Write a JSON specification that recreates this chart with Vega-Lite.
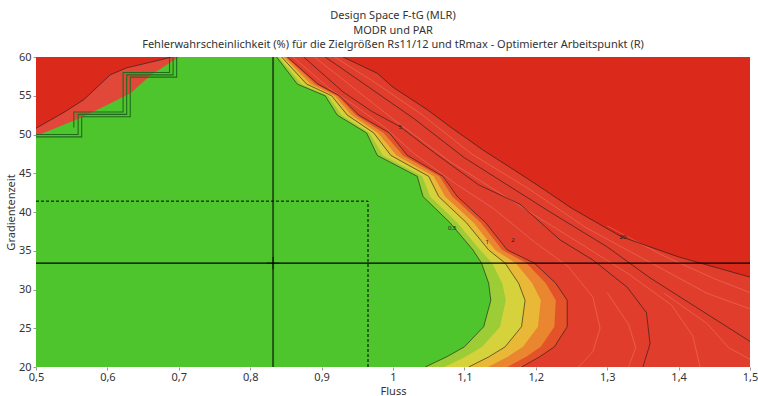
{
  "$schema": "https://vega.github.io/schema/vega-lite/v6.json",
  "width": 714,
  "height": 310,
  "autosize": {"type": "none"},
  "padding": {"left": 36, "top": 57, "right": 8, "bottom": 29},
  "background": "white",
  "title": {
    "text": ["Design Space F-tG (MLR)", "MODR und PAR", "Fehlerwahrscheinlichkeit (%) für die Zielgrößen Rs11/12 und tRmax - Optimierter Arbeitspunkt (R)"],
    "fontSize": 11, "fontWeight": "normal", "font": "Noto Sans", "color": "#333333",
    "lineHeight": 14.5, "offset": 1, "anchor": "middle", "frame": "group"
  },
  "config": {"view": {"stroke": null}, "font": "Noto Sans"},
  "datasets": {
    "bands": [
      {"b": "G", "y": 60, "x": 0.837}, {"b": "G", "y": 56.5, "x": 0.866}, {"b": "G", "y": 55, "x": 0.905}, {"b": "G", "y": 52.5, "x": 0.922}, {"b": "G", "y": 50.2, "x": 0.963}, {"b": "G", "y": 47.3, "x": 0.978}, {"b": "G", "y": 44.6, "x": 1.034}, {"b": "G", "y": 42, "x": 1.042}, {"b": "G", "y": 38.6, "x": 1.08}, {"b": "G", "y": 35.1, "x": 1.112}, {"b": "G", "y": 33.4, "x": 1.124}, {"b": "G", "y": 30.8, "x": 1.134}, {"b": "G", "y": 28.6, "x": 1.137}, {"b": "G", "y": 25.2, "x": 1.127}, {"b": "G", "y": 22.6, "x": 1.1}, {"b": "G", "y": 21.3, "x": 1.075}, {"b": "G", "y": 20, "x": 1.045},
      {"b": "L", "y": 60, "x": 0.84}, {"b": "L", "y": 56.5, "x": 0.872}, {"b": "L", "y": 55, "x": 0.909}, {"b": "L", "y": 52.5, "x": 0.928}, {"b": "L", "y": 50.2, "x": 0.967}, {"b": "L", "y": 47.3, "x": 0.986}, {"b": "L", "y": 44.6, "x": 1.041}, {"b": "L", "y": 42, "x": 1.052}, {"b": "L", "y": 38.6, "x": 1.09}, {"b": "L", "y": 35.1, "x": 1.122}, {"b": "L", "y": 33.4, "x": 1.139}, {"b": "L", "y": 30.8, "x": 1.153}, {"b": "L", "y": 28.6, "x": 1.158}, {"b": "L", "y": 25.2, "x": 1.15}, {"b": "L", "y": 22.6, "x": 1.125}, {"b": "L", "y": 21.3, "x": 1.101}, {"b": "L", "y": 20, "x": 1.072},
      {"b": "Y", "y": 60, "x": 0.844}, {"b": "Y", "y": 56.5, "x": 0.879}, {"b": "Y", "y": 55, "x": 0.914}, {"b": "Y", "y": 52.5, "x": 0.936}, {"b": "Y", "y": 50.2, "x": 0.973}, {"b": "Y", "y": 47.3, "x": 0.997}, {"b": "Y", "y": 44.6, "x": 1.05}, {"b": "Y", "y": 42, "x": 1.064}, {"b": "Y", "y": 38.6, "x": 1.103}, {"b": "Y", "y": 35.1, "x": 1.134}, {"b": "Y", "y": 33.4, "x": 1.157}, {"b": "Y", "y": 30.8, "x": 1.176}, {"b": "Y", "y": 28.6, "x": 1.185}, {"b": "Y", "y": 25.2, "x": 1.18}, {"b": "Y", "y": 22.6, "x": 1.157}, {"b": "Y", "y": 21.3, "x": 1.134}, {"b": "Y", "y": 20, "x": 1.106},
      {"b": "YO", "y": 60, "x": 0.847}, {"b": "YO", "y": 56.5, "x": 0.885}, {"b": "YO", "y": 55, "x": 0.918}, {"b": "YO", "y": 52.5, "x": 0.942}, {"b": "YO", "y": 50.2, "x": 0.979}, {"b": "YO", "y": 47.3, "x": 1.005}, {"b": "YO", "y": 44.6, "x": 1.057}, {"b": "YO", "y": 42, "x": 1.073}, {"b": "YO", "y": 38.6, "x": 1.113}, {"b": "YO", "y": 35.1, "x": 1.143}, {"b": "YO", "y": 33.4, "x": 1.172}, {"b": "YO", "y": 30.8, "x": 1.195}, {"b": "YO", "y": 28.6, "x": 1.207}, {"b": "YO", "y": 25.2, "x": 1.203}, {"b": "YO", "y": 22.6, "x": 1.182}, {"b": "YO", "y": 21.3, "x": 1.16}, {"b": "YO", "y": 20, "x": 1.133},
      {"b": "O", "y": 60, "x": 0.85}, {"b": "O", "y": 56.5, "x": 0.891}, {"b": "O", "y": 55, "x": 0.922}, {"b": "O", "y": 52.5, "x": 0.948}, {"b": "O", "y": 50.2, "x": 0.987}, {"b": "O", "y": 47.3, "x": 1.014}, {"b": "O", "y": 44.6, "x": 1.065}, {"b": "O", "y": 42, "x": 1.083}, {"b": "O", "y": 38.6, "x": 1.123}, {"b": "O", "y": 35.1, "x": 1.153}, {"b": "O", "y": 33.4, "x": 1.187}, {"b": "O", "y": 30.8, "x": 1.214}, {"b": "O", "y": 28.6, "x": 1.228}, {"b": "O", "y": 25.2, "x": 1.226}, {"b": "O", "y": 22.6, "x": 1.207}, {"b": "O", "y": 21.3, "x": 1.186}, {"b": "O", "y": 20, "x": 1.16},
      {"b": "R", "y": 60, "x": 0.852}, {"b": "R", "y": 56.5, "x": 0.895}, {"b": "R", "y": 55, "x": 0.925}, {"b": "R", "y": 52.5, "x": 0.952}, {"b": "R", "y": 50.2, "x": 0.995}, {"b": "R", "y": 47.3, "x": 1.02}, {"b": "R", "y": 44.6, "x": 1.07}, {"b": "R", "y": 42, "x": 1.09}, {"b": "R", "y": 38.6, "x": 1.13}, {"b": "R", "y": 35.1, "x": 1.16}, {"b": "R", "y": 33.4, "x": 1.198}, {"b": "R", "y": 30.8, "x": 1.228}, {"b": "R", "y": 28.6, "x": 1.244}, {"b": "R", "y": 25.2, "x": 1.244}, {"b": "R", "y": 22.6, "x": 1.226}, {"b": "R", "y": 21.3, "x": 1.205}, {"b": "R", "y": 20, "x": 1.18},
      {"b": "S", "y": 60, "x": 0.93}, {"b": "S", "y": 57.9, "x": 0.978}, {"b": "S", "y": 56.1, "x": 1.0}, {"b": "S", "y": 53.2, "x": 1.048}, {"b": "S", "y": 51, "x": 1.08}, {"b": "S", "y": 48, "x": 1.126}, {"b": "S", "y": 45.4, "x": 1.17}, {"b": "S", "y": 43, "x": 1.21}, {"b": "S", "y": 40.5, "x": 1.25}, {"b": "S", "y": 36.8, "x": 1.32}, {"b": "S", "y": 34.2, "x": 1.4}, {"b": "S", "y": 31.6, "x": 1.5}, {"b": "S", "y": 20, "x": 1.5}
    ],
    "topleft": [
      {"b": "TL1", "x": 0.5, "y": 49.8}, {"b": "TL1", "x": 0.564, "y": 52.2}, {"b": "TL1", "x": 0.632, "y": 55.3}, {"b": "TL1", "x": 0.66, "y": 57.6}, {"b": "TL1", "x": 0.7, "y": 60},
      {"b": "TL2", "x": 0.5, "y": 50.8}, {"b": "TL2", "x": 0.54, "y": 52.9}, {"b": "TL2", "x": 0.567, "y": 54.5}, {"b": "TL2", "x": 0.604, "y": 57.7}, {"b": "TL2", "x": 0.627, "y": 58.6}, {"b": "TL2", "x": 0.673, "y": 59.6}, {"b": "TL2", "x": 0.69, "y": 60}
    ],
    "steps": [
      {"c": "s1", "i": 1, "x": 0.5, "y": 49.7}, {"c": "s1", "i": 2, "x": 0.564, "y": 49.7}, {"c": "s1", "i": 3, "x": 0.564, "y": 52.3}, {"c": "s1", "i": 4, "x": 0.632, "y": 52.3}, {"c": "s1", "i": 5, "x": 0.632, "y": 57.4}, {"c": "s1", "i": 6, "x": 0.697, "y": 57.4}, {"c": "s1", "i": 7, "x": 0.697, "y": 60},
      {"c": "s2", "i": 1, "x": 0.5, "y": 50.0}, {"c": "s2", "i": 2, "x": 0.559, "y": 50.0}, {"c": "s2", "i": 3, "x": 0.559, "y": 52.6}, {"c": "s2", "i": 4, "x": 0.627, "y": 52.6}, {"c": "s2", "i": 5, "x": 0.627, "y": 57.7}, {"c": "s2", "i": 6, "x": 0.692, "y": 57.7}, {"c": "s2", "i": 7, "x": 0.692, "y": 60},
      {"c": "s3", "i": 1, "x": 0.553, "y": 50.9}, {"c": "s3", "i": 2, "x": 0.553, "y": 52.9}, {"c": "s3", "i": 3, "x": 0.622, "y": 52.9}, {"c": "s3", "i": 4, "x": 0.622, "y": 58.0}, {"c": "s3", "i": 5, "x": 0.687, "y": 58.0}, {"c": "s3", "i": 6, "x": 0.687, "y": 60}
    ],
    "light": [
      {"c": "l1", "i": 1, "x": 0.86, "y": 60}, {"c": "l1", "i": 2, "x": 0.91, "y": 56}, {"c": "l1", "i": 3, "x": 0.95, "y": 53.5}, {"c": "l1", "i": 4, "x": 0.99, "y": 50.8}, {"c": "l1", "i": 5, "x": 1.03, "y": 47.5}, {"c": "l1", "i": 6, "x": 1.09, "y": 43.5}, {"c": "l1", "i": 7, "x": 1.14, "y": 40.5}, {"c": "l1", "i": 8, "x": 1.2, "y": 36}, {"c": "l1", "i": 9, "x": 1.245, "y": 33}, {"c": "l1", "i": 10, "x": 1.28, "y": 29}, {"c": "l1", "i": 11, "x": 1.29, "y": 25}, {"c": "l1", "i": 12, "x": 1.28, "y": 22}, {"c": "l1", "i": 13, "x": 1.26, "y": 20},
      {"c": "l2", "i": 1, "x": 0.89, "y": 60}, {"c": "l2", "i": 2, "x": 0.945, "y": 56}, {"c": "l2", "i": 3, "x": 1.0, "y": 52}, {"c": "l2", "i": 4, "x": 1.08, "y": 46.5}, {"c": "l2", "i": 5, "x": 1.14, "y": 43}, {"c": "l2", "i": 6, "x": 1.2, "y": 39.5}, {"c": "l2", "i": 7, "x": 1.27, "y": 35.5}, {"c": "l2", "i": 8, "x": 1.33, "y": 32}, {"c": "l2", "i": 9, "x": 1.39, "y": 28}, {"c": "l2", "i": 10, "x": 1.42, "y": 24}, {"c": "l2", "i": 11, "x": 1.43, "y": 20},
      {"c": "l3", "i": 1, "x": 0.918, "y": 60}, {"c": "l3", "i": 2, "x": 0.97, "y": 57}, {"c": "l3", "i": 3, "x": 1.04, "y": 52.6}, {"c": "l3", "i": 4, "x": 1.11, "y": 47.5}, {"c": "l3", "i": 5, "x": 1.19, "y": 43}, {"c": "l3", "i": 6, "x": 1.27, "y": 38}, {"c": "l3", "i": 7, "x": 1.35, "y": 34}, {"c": "l3", "i": 8, "x": 1.44, "y": 29.5}, {"c": "l3", "i": 9, "x": 1.5, "y": 27.5},
      {"c": "l4", "i": 1, "x": 1.3, "y": 38.2}, {"c": "l4", "i": 2, "x": 1.38, "y": 34.3}, {"c": "l4", "i": 3, "x": 1.45, "y": 31.4}, {"c": "l4", "i": 4, "x": 1.5, "y": 29.6},
      {"c": "l5", "i": 1, "x": 1.38, "y": 29.5}, {"c": "l5", "i": 2, "x": 1.44, "y": 25.6}, {"c": "l5", "i": 3, "x": 1.47, "y": 22.5}, {"c": "l5", "i": 4, "x": 1.5, "y": 21},
      {"c": "l6", "i": 1, "x": 1.3, "y": 29.6}, {"c": "l6", "i": 2, "x": 1.33, "y": 25.5}, {"c": "l6", "i": 3, "x": 1.34, "y": 22.5}, {"c": "l6", "i": 4, "x": 1.33, "y": 20}
    ],
    "contours": [
      {"c": "c05", "i": 1, "y": 60, "x": 0.837}, {"c": "c05", "i": 2, "y": 56.5, "x": 0.866}, {"c": "c05", "i": 3, "y": 55, "x": 0.905}, {"c": "c05", "i": 4, "y": 52.5, "x": 0.922}, {"c": "c05", "i": 5, "y": 50.2, "x": 0.963}, {"c": "c05", "i": 6, "y": 47.3, "x": 0.978}, {"c": "c05", "i": 7, "y": 44.6, "x": 1.034}, {"c": "c05", "i": 8, "y": 42, "x": 1.042}, {"c": "c05", "i": 9, "y": 38.6, "x": 1.08}, {"c": "c05", "i": 10, "y": 35.1, "x": 1.112}, {"c": "c05", "i": 11, "y": 33.4, "x": 1.124}, {"c": "c05", "i": 12, "y": 30.8, "x": 1.134}, {"c": "c05", "i": 13, "y": 28.6, "x": 1.137}, {"c": "c05", "i": 14, "y": 25.2, "x": 1.127}, {"c": "c05", "i": 15, "y": 22.6, "x": 1.1}, {"c": "c05", "i": 16, "y": 21.3, "x": 1.075}, {"c": "c05", "i": 17, "y": 20, "x": 1.045},
      {"c": "c1", "i": 1, "y": 60, "x": 0.844}, {"c": "c1", "i": 2, "y": 56.5, "x": 0.879}, {"c": "c1", "i": 3, "y": 55, "x": 0.914}, {"c": "c1", "i": 4, "y": 52.5, "x": 0.936}, {"c": "c1", "i": 5, "y": 50.2, "x": 0.973}, {"c": "c1", "i": 6, "y": 47.3, "x": 0.997}, {"c": "c1", "i": 7, "y": 44.6, "x": 1.05}, {"c": "c1", "i": 8, "y": 42, "x": 1.064}, {"c": "c1", "i": 9, "y": 38.6, "x": 1.103}, {"c": "c1", "i": 10, "y": 35.1, "x": 1.134}, {"c": "c1", "i": 11, "y": 33.4, "x": 1.157}, {"c": "c1", "i": 12, "y": 30.8, "x": 1.176}, {"c": "c1", "i": 13, "y": 28.6, "x": 1.185}, {"c": "c1", "i": 14, "y": 25.2, "x": 1.18}, {"c": "c1", "i": 15, "y": 22.6, "x": 1.157}, {"c": "c1", "i": 16, "y": 21.3, "x": 1.134}, {"c": "c1", "i": 17, "y": 20, "x": 1.106},
      {"c": "c2", "i": 1, "y": 60, "x": 0.852}, {"c": "c2", "i": 2, "y": 56.5, "x": 0.895}, {"c": "c2", "i": 3, "y": 55, "x": 0.925}, {"c": "c2", "i": 4, "y": 52.5, "x": 0.952}, {"c": "c2", "i": 5, "y": 50.2, "x": 0.995}, {"c": "c2", "i": 6, "y": 47.3, "x": 1.02}, {"c": "c2", "i": 7, "y": 44.6, "x": 1.07}, {"c": "c2", "i": 8, "y": 42, "x": 1.09}, {"c": "c2", "i": 9, "y": 38.6, "x": 1.13}, {"c": "c2", "i": 10, "y": 35.1, "x": 1.16}, {"c": "c2", "i": 11, "y": 33.4, "x": 1.198}, {"c": "c2", "i": 12, "y": 30.8, "x": 1.228}, {"c": "c2", "i": 13, "y": 28.6, "x": 1.244}, {"c": "c2", "i": 14, "y": 25.2, "x": 1.244}, {"c": "c2", "i": 15, "y": 22.6, "x": 1.226}, {"c": "c2", "i": 16, "y": 21.3, "x": 1.205}, {"c": "c2", "i": 17, "y": 20, "x": 1.18},
      {"c": "c5", "i": 1, "y": 60, "x": 0.875}, {"c": "c5", "i": 2, "y": 55.5, "x": 0.93}, {"c": "c5", "i": 3, "y": 53, "x": 0.97}, {"c": "c5", "i": 4, "y": 51, "x": 1.01}, {"c": "c5", "i": 5, "y": 47.5, "x": 1.06}, {"c": "c5", "i": 6, "y": 43.5, "x": 1.12}, {"c": "c5", "i": 7, "y": 41, "x": 1.178}, {"c": "c5", "i": 8, "y": 36.4, "x": 1.234}, {"c": "c5", "i": 9, "y": 33.8, "x": 1.28}, {"c": "c5", "i": 10, "y": 30.3, "x": 1.328}, {"c": "c5", "i": 11, "y": 27, "x": 1.355}, {"c": "c5", "i": 12, "y": 23, "x": 1.36}, {"c": "c5", "i": 13, "y": 20, "x": 1.35},
      {"c": "c10", "i": 1, "y": 60, "x": 0.905}, {"c": "c10", "i": 2, "y": 56.5, "x": 0.96}, {"c": "c10", "i": 3, "y": 52, "x": 1.03}, {"c": "c10", "i": 4, "y": 47, "x": 1.1}, {"c": "c10", "i": 5, "y": 43.5, "x": 1.16}, {"c": "c10", "i": 6, "y": 40, "x": 1.22}, {"c": "c10", "i": 7, "y": 35.5, "x": 1.3}, {"c": "c10", "i": 8, "y": 31.5, "x": 1.36}, {"c": "c10", "i": 9, "y": 27.4, "x": 1.43}, {"c": "c10", "i": 10, "y": 23.3, "x": 1.5},
      {"c": "c20", "i": 1, "y": 60, "x": 0.93}, {"c": "c20", "i": 2, "y": 57.9, "x": 0.978}, {"c": "c20", "i": 3, "y": 56.1, "x": 1.0}, {"c": "c20", "i": 4, "y": 53.2, "x": 1.048}, {"c": "c20", "i": 5, "y": 51, "x": 1.08}, {"c": "c20", "i": 6, "y": 48, "x": 1.126}, {"c": "c20", "i": 7, "y": 45.4, "x": 1.17}, {"c": "c20", "i": 8, "y": 43, "x": 1.21}, {"c": "c20", "i": 9, "y": 40.5, "x": 1.25}, {"c": "c20", "i": 10, "y": 36.8, "x": 1.32}, {"c": "c20", "i": 11, "y": 34.2, "x": 1.4}, {"c": "c20", "i": 12, "y": 31.6, "x": 1.5},
      {"c": "tl", "i": 1, "x": 0.5, "y": 50.8}, {"c": "tl", "i": 2, "x": 0.54, "y": 52.9}, {"c": "tl", "i": 3, "x": 0.567, "y": 54.5}, {"c": "tl", "i": 4, "x": 0.604, "y": 57.7}, {"c": "tl", "i": 5, "x": 0.627, "y": 58.6}, {"c": "tl", "i": 6, "x": 0.673, "y": 59.6}, {"c": "tl", "i": 7, "x": 0.69, "y": 60}
    ],
    "labels": [
      {"x": 1.083, "y": 37.9, "t": "0,5"}, {"x": 1.132, "y": 36.1, "t": "1"}, {"x": 1.168, "y": 36.4, "t": "2"}, {"x": 1.01, "y": 51, "t": "5"}, {"x": 1.322, "y": 36.8, "t": "20"}
    ]
  },
  "encoding": {
    "x": {
      "field": "x", "type": "quantitative",
      "scale": {"domain": [0.5, 1.5], "nice": false, "zero": false},
      "axis": {
        "title": "Fluss", "values": [0.5, 0.6, 0.7, 0.8, 0.9, 1, 1.1, 1.2, 1.3, 1.4, 1.5],
        "labelExpr": "replace(format(datum.value, '.2~f'), '.', ',')",
        "grid": false, "domain": false, "tickSize": 3, "tickColor": "#999999",
        "labelFontSize": 11, "labelColor": "#333333", "labelPadding": 1, "labelFlush": false,
        "titleFontSize": 11, "titleFontWeight": "normal", "titleColor": "#333333", "titlePadding": 3
      }
    },
    "y": {
      "field": "y", "type": "quantitative",
      "scale": {"domain": [20, 60], "nice": false, "zero": false},
      "axis": {
        "title": "Gradientenzeit", "values": [20, 25, 30, 35, 40, 45, 50, 55, 60],
        "grid": false, "domain": false, "tickSize": 3, "tickColor": "#999999",
        "labelFontSize": 11, "labelColor": "#333333", "labelPadding": 2,
        "titleFontSize": 11, "titleFontWeight": "normal", "titleColor": "#333333", "titlePadding": 2
      }
    }
  },
  "layer": [
    {"data": {"values": [{"x": 0.5, "x2": 1.5, "y": 20, "y2": 60}]}, "mark": {"type": "rect", "color": "#db2a1b"}, "encoding": {"x2": {"field": "x2"}, "y2": {"field": "y2"}}},
    {"data": {"name": "bands"}, "transform": [{"filter": "datum.b === 'S'"}], "mark": {"type": "area", "orient": "horizontal", "color": "#e13d2c", "clip": true}, "encoding": {"x2": {"datum": 0.5}}},
    {"data": {"name": "light"}, "mark": {"type": "line", "color": "#f08a76", "strokeWidth": 0.6, "opacity": 0.7, "clip": true}, "encoding": {"detail": {"field": "c"}, "order": {"field": "i"}}},
    {"data": {"name": "bands"}, "transform": [{"filter": "datum.b === 'R'"}], "mark": {"type": "area", "orient": "horizontal", "color": "#e4522a", "clip": true}, "encoding": {"x2": {"datum": 0.5}}},
    {"data": {"name": "bands"}, "transform": [{"filter": "datum.b === 'O'"}], "mark": {"type": "area", "orient": "horizontal", "color": "#ea8630", "clip": true}, "encoding": {"x2": {"datum": 0.5}}},
    {"data": {"name": "bands"}, "transform": [{"filter": "datum.b === 'YO'"}], "mark": {"type": "area", "orient": "horizontal", "color": "#e9b836", "clip": true}, "encoding": {"x2": {"datum": 0.5}}},
    {"data": {"name": "bands"}, "transform": [{"filter": "datum.b === 'Y'"}], "mark": {"type": "area", "orient": "horizontal", "color": "#d6d23c", "clip": true}, "encoding": {"x2": {"datum": 0.5}}},
    {"data": {"name": "bands"}, "transform": [{"filter": "datum.b === 'L'"}], "mark": {"type": "area", "orient": "horizontal", "color": "#9ccc36", "clip": true}, "encoding": {"x2": {"datum": 0.5}}},
    {"data": {"name": "bands"}, "transform": [{"filter": "datum.b === 'G'"}], "mark": {"type": "area", "orient": "horizontal", "color": "#4ec52d", "clip": true}, "encoding": {"x2": {"datum": 0.5}}},
    {"data": {"name": "topleft"}, "transform": [{"filter": "datum.b === 'TL1'"}], "mark": {"type": "area", "orient": "vertical", "color": "#e2483a", "clip": true}, "encoding": {"y2": {"datum": 60}}},
    {"data": {"name": "topleft"}, "transform": [{"filter": "datum.b === 'TL2'"}], "mark": {"type": "area", "orient": "vertical", "color": "#db2a1b", "clip": true}, "encoding": {"y2": {"datum": 60}}},
    {"data": {"name": "steps"}, "mark": {"type": "line", "color": "#1f6b1c", "strokeWidth": 1.1, "clip": true}, "encoding": {"detail": {"field": "c"}, "order": {"field": "i"}}},
    {"data": {"name": "contours"}, "mark": {"type": "line", "color": "#1a1a1a", "strokeWidth": 0.8, "opacity": 0.75, "clip": true}, "encoding": {"detail": {"field": "c"}, "order": {"field": "i"}}},
    {"data": {"values": [{"x": 0.832, "y": 20, "y2": 60}]}, "mark": {"type": "rule", "color": "#000000", "strokeWidth": 2, "opacity": 0.55}, "encoding": {"y2": {"field": "y2"}}},
    {"data": {"values": [{"x": 0.5, "x2": 1.5, "y": 33.4}]}, "mark": {"type": "rule", "color": "#000000", "strokeWidth": 1.2}, "encoding": {"x2": {"field": "x2"}}},
    {"data": {"values": [{"x": 0.5, "x2": 0.965, "y": 41.4}]}, "mark": {"type": "rule", "color": "#000000", "strokeWidth": 1, "strokeDash": [3, 2]}, "encoding": {"x2": {"field": "x2"}}},
    {"data": {"values": [{"x": 0.965, "y": 20, "y2": 41.4}]}, "mark": {"type": "rule", "color": "#000000", "strokeWidth": 1, "strokeDash": [3, 2]}, "encoding": {"y2": {"field": "y2"}}},
    {"data": {"values": [{"x": 0.832, "y": 33.4}]}, "mark": {"type": "point", "shape": "M-1,0L1,0M0,-1L0,1", "size": 150, "filled": false, "color": "#000000", "strokeWidth": 1}},
    {"data": {"name": "labels"}, "mark": {"type": "text", "fontSize": 6, "color": "#222222"}, "encoding": {"text": {"field": "t"}}}
  ]
}
